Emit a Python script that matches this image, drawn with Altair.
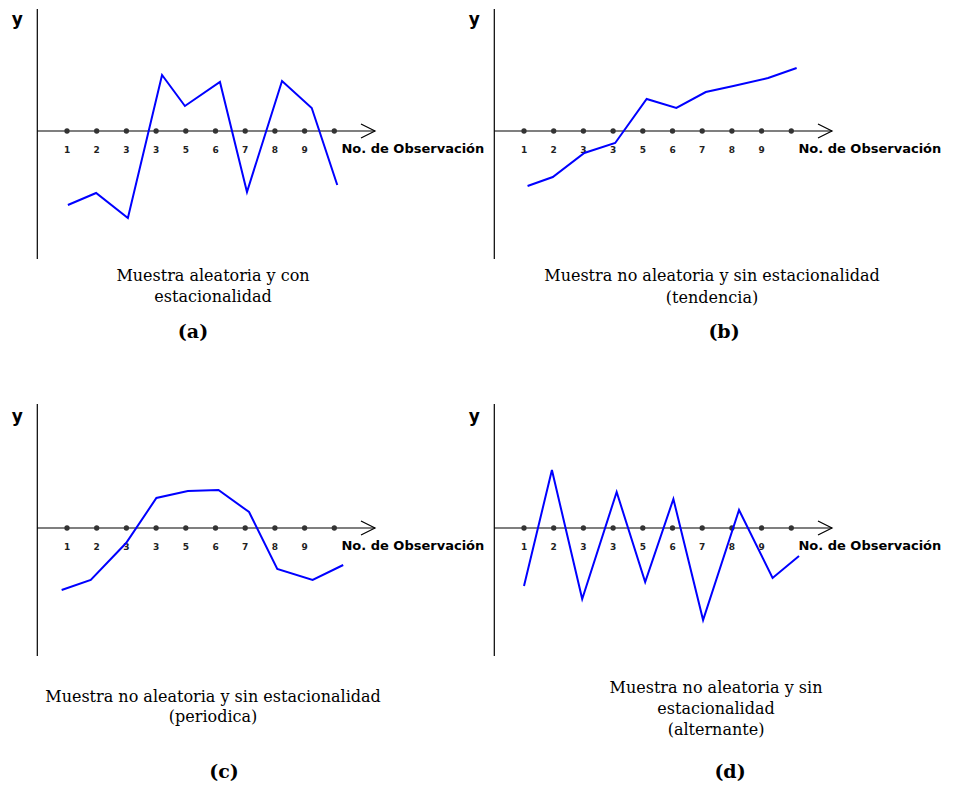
import altair as alt
import pandas as pd

# ---------------- data ----------------
OBS = list(range(1, 11))
TICK_POS = list(range(1, 10))
TICK_LABELS = ["1", "2", "3", "3", "5", "6", "7", "8", "9"]
X_TITLE = "No. de Observación"
Y_TITLE = "y"
AXIS_END = 11.37

a_x = [1.03, 1.98, 3.05, 4.20, 4.97, 6.15, 7.06, 8.24, 9.24, 10.10]
a_y = [-7.4, -6.2, -8.7, 5.6, 2.5, 4.9, -6.1, 5.0, 2.3, -5.4]

b_x = [1.12, 1.97, 3.03, 4.07, 5.13, 6.13, 7.12, 8.05, 9.22, 10.18]
b_y = [-5.5, -4.6, -2.2, -1.2, 3.2, 2.3, 3.9, 4.5, 5.3, 6.3]

c_x = [0.82, 1.80, 2.99, 4.01, 5.07, 6.10, 7.13, 8.08, 9.27, 10.30]
c_y = [-6.2, -5.2, -1.5, 3.0, 3.7, 3.8, 1.6, -4.1, -5.2, -3.7]

d_x = [1.00, 1.94, 2.96, 4.12, 5.08, 6.03, 7.03, 8.24, 9.37, 10.26]
d_y = [-5.8, 5.8, -7.1, 3.6, -5.4, 2.9, -9.2, 1.8, -5.0, -2.8]

cap_a = ["Muestra aleatoria y con", "estacionalidad"]
cap_b = ["Muestra no aleatoria y sin estacionalidad", "(tendencia)"]
cap_c = ["Muestra no aleatoria y sin estacionalidad", "(periodica)"]
cap_d = ["Muestra no aleatoria y sin", "estacionalidad", "(alternante)"]

# ---------------- layout ----------------
UNIT_X = 29.7
ORIGIN_X = 29.3
UNIT_Y = 10.0
SANS = "DejaVu Sans"
SERIF = "DejaVu Serif"


def make_panel(xs, ys, captions, cap_x, cap_ys, letter, letter_x, letter_y, W, H, axis_y):
    xdom = [-ORIGIN_X / UNIT_X, (W - ORIGIN_X) / UNIT_X]
    ydom = [(axis_y - H) / UNIT_Y, axis_y / UNIT_Y]
    sx = alt.Scale(domain=xdom, nice=False, zero=False)
    sy = alt.Scale(domain=ydom, nice=False, zero=False)

    def X(f):
        return alt.X(f, scale=sx, axis=None)

    def Y(f):
        return alt.Y(f, scale=sy, axis=None)

    vaxis = alt.Chart(pd.DataFrame({"x": [0.0], "y1": [-12.8], "y2": [min(12.7, ydom[1])]})).mark_rule(
        color="black", strokeWidth=1.2
    ).encode(x=X("x:Q"), y=Y("y1:Q"), y2="y2:Q")

    haxis = alt.Chart(pd.DataFrame({"x1": [0.0], "x2": [AXIS_END], "y": [0.0]})).mark_rule(
        color="black", strokeWidth=1.2
    ).encode(x=X("x1:Q"), x2="x2:Q", y=Y("y:Q"))

    arrow = alt.Chart(pd.DataFrame({"x": [AXIS_END - 7 / UNIT_X], "y": [0.0]})).mark_point(
        shape="M-1,-1L1,0L-1,1", filled=False, size=196, color="black", strokeWidth=1.2, opacity=1
    ).encode(x=X("x:Q"), y=Y("y:Q"))

    dots = alt.Chart(pd.DataFrame({"x": OBS, "y": [0.0] * len(OBS)})).mark_circle(
        size=28, color="#333333", opacity=1
    ).encode(x=X("x:Q"), y=Y("y:Q"))

    ticks = alt.Chart(pd.DataFrame({"x": TICK_POS, "y": [-1.9] * len(TICK_POS), "t": TICK_LABELS})).mark_text(
        font=SANS, fontSize=9, fontWeight="bold", color="#222222", baseline="middle"
    ).encode(x=X("x:Q"), y=Y("y:Q"), text="t:N")

    xtitle = alt.Chart(pd.DataFrame({"x": [10.24], "y": [-1.8], "t": [X_TITLE]})).mark_text(
        font=SANS, fontSize=13, fontWeight="bold", color="black", align="left", baseline="middle"
    ).encode(x=X("x:Q"), y=Y("y:Q"), text="t:N")

    ytitle = alt.Chart(pd.DataFrame({"x": [-20 / UNIT_X], "y": [11.1], "t": [Y_TITLE]})).mark_text(
        font=SANS, fontSize=17, fontWeight="bold", color="black", baseline="middle"
    ).encode(x=X("x:Q"), y=Y("y:Q"), text="t:N")

    line = alt.Chart(pd.DataFrame({"x": xs, "y": ys, "i": list(range(len(xs)))})).mark_line(
        color="#0000FF", strokeWidth=2
    ).encode(x=X("x:Q"), y=Y("y:Q"), order="i:Q")

    caps = alt.Chart(pd.DataFrame({"t": captions, "py": cap_ys})).mark_text(
        font=SERIF, fontSize=16, color="black", baseline="middle"
    ).encode(x=alt.value(cap_x), y=alt.Y("py:Q", scale=None, axis=None), text="t:N")

    let = alt.Chart(pd.DataFrame({"t": [letter], "py": [letter_y]})).mark_text(
        font=SERIF, fontSize=19, fontWeight="bold", color="black", baseline="middle"
    ).encode(x=alt.value(letter_x), y=alt.Y("py:Q", scale=None, axis=None), text="t:N")

    return alt.layer(vaxis, haxis, arrow, dots, ticks, xtitle, ytitle, line, caps, let).properties(
        width=W, height=H
    )


pa = make_panel(a_x, a_y, cap_a, 205, [267, 288], "(a)", 185, 323, 457, 395, 122)
pb = make_panel(b_x, b_y, cap_b, 247, [267, 289], "(b)", 259, 323, 460, 395, 122)
pc = make_panel(c_x, c_y, cap_c, 205, [293, 313], "(c)", 216, 368, 457, 376, 124)
pd_ = make_panel(d_x, d_y, cap_d, 251, [284, 305, 326], "(d)", 265, 368, 460, 376, 124)

chart = alt.concat(pa, pb, pc, pd_, columns=2, spacing=0, bounds="flush").properties(
    padding=0
).configure_view(stroke=None)

chart.save("out.html", embed_options={"renderer": "svg", "actions": False})
